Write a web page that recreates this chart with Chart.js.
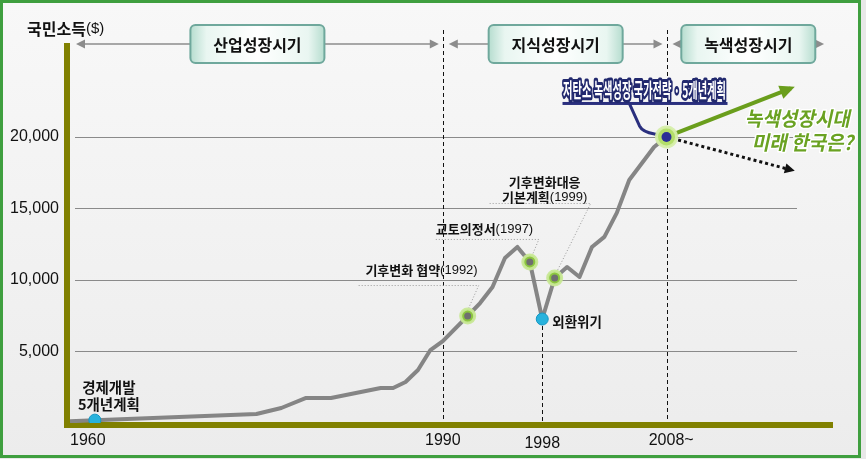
<!DOCTYPE html>
<html lang="ko">
<head>
<meta charset="utf-8">
<title>국민소득 추이</title>
<script src="https://cdn.jsdelivr.net/npm/chart.js@4.4.1/dist/chart.umd.min.js"></script>
<style>
  html, body { margin: 0; padding: 0; background: #fff; }
  canvas { display: block; }
</style>
</head>
<body>
<canvas id="myChart" width="866" height="459"></canvas>
<script>
// 1인당 국민소득($) - 그림에서 읽은 값
const years  = [1960, 1962, 1975, 1977, 1979, 1981, 1983, 1985, 1986, 1987, 1988, 1989, 1990,
                1992, 1993, 1994, 1995, 1996, 1997, 1998, 1999, 2000, 2001, 2002, 2003, 2004, 2005, 2007, 2008];
const income = [120, 200, 630, 1050, 1750, 1750, 2100, 2450, 2450, 2870, 3710, 5100, 5730,
                7480, 8390, 9510, 11540, 12310, 11260, 7270, 10140, 10910, 10210, 12310, 13010, 14690, 16990, 19300, 20000];

const yTicks = [5000, 10000, 15000, 20000];
const xTicks = [1960, 1990, 1998, 2008];
const xTickText = ['1960', '1990', '1998', '2008~'];

// 시기 구분
const periods = [1960, 1990, 2008, 2021];
const periodNames = ['산업성장시기', '지식성장시기', '녹색성장시기'];

// 주요 사건
const policyYears = [1992, 1997, 1999];
const policyNames = [['기후변화 협약', '(1992)'], ['교토의정서', '(1997)'], ['기후변화대응', '기본계획', '(1999)']];
const blueYears = [1962, 1998];
const blueNames = [['경제개발', '5개년계획'], ['외환위기']];
const greenYear = 2008;
const greenName = '저탄소 녹색성장 국가전략 · 5개년계획';

// 전망
const outlookYears = [2008, 2018];
const outlookUp = [20000, 23400];
const outlookDown = [20000, 17700];
const outlookText = ['녹색성장시대', '미래 한국은?'];

const KO = '"Noto Sans CJK KR", sans-serif';
const NUM = '"Liberation Sans", Arial, sans-serif';

const valueAt = yr => income[years.indexOf(yr)];
const pts = list => list.map(yr => ({ x: yr, y: valueAt(yr) }));

function line(ctx, x0, y0, x1, y1) {
    ctx.beginPath(); ctx.moveTo(x0, y0); ctx.lineTo(x1, y1); ctx.stroke();
}

function arrowHead(ctx, tx, ty, ang, len, half) {
    ctx.beginPath();
    ctx.moveTo(tx, ty);
    ctx.lineTo(tx - len * Math.cos(ang) - half * Math.sin(ang), ty - len * Math.sin(ang) + half * Math.cos(ang));
    ctx.lineTo(tx - len * Math.cos(ang) + half * Math.sin(ang), ty - len * Math.sin(ang) - half * Math.cos(ang));
    ctx.closePath();
    ctx.fill();
}

// 한글(굵게) + 숫자(보통) 섞어 쓰기
function runs(ctx, parts, x, y, align) {
    let total = 0;
    parts.forEach(p => { ctx.font = p[1]; total += ctx.measureText(p[0]).width; });
    let cx = align === 'center' ? x - total / 2 : align === 'right' ? x - total : x;
    ctx.textAlign = 'left';
    ctx.textBaseline = 'middle';
    parts.forEach(p => { ctx.font = p[1]; ctx.fillText(p[0], cx, y); cx += ctx.measureText(p[0]).width; });
}

const decor = {
    id: 'decor',
    beforeDraw(chart) {
        const { ctx, width, height } = chart;
        ctx.save();
        ctx.fillStyle = '#e8e8e8';
        ctx.fillRect(0, 0, width, height);
        const g = ctx.createLinearGradient(0, 0, 0, height);
        g.addColorStop(0, '#f8f8f8');
        g.addColorStop(1, '#ececec');
        ctx.fillStyle = g;
        ctx.fillRect(2, 2, 857, 453);
        ctx.strokeStyle = '#3f9f3f';
        ctx.lineWidth = 3;
        ctx.strokeRect(1.5, 1.5, 858, 455);
        ctx.restore();
    },
    beforeDatasetsDraw(chart) {
        const { ctx, chartArea: a, scales: { x, y } } = chart;
        ctx.save();

        // 가로 눈금선
        ctx.strokeStyle = '#8a8a8a';
        ctx.lineWidth = 1;
        yTicks.forEach(v => {
            const py = Math.round(y.getPixelForValue(v)) + 0.5;
            line(ctx, a.left + 5, py, a.right, py);
        });

        // 시기 구분 점선
        ctx.strokeStyle = '#111';
        ctx.setLineDash([4, 3]);
        [periods[1], periods[2]].forEach(yr => {
            const px = Math.round(x.getPixelForValue(yr)) + 0.5;
            line(ctx, px, 30, px, a.bottom);
        });
        const cx = Math.round(x.getPixelForValue(1998)) + 0.5;
        line(ctx, cx, y.getPixelForValue(valueAt(1998)) + 7, cx, a.bottom);
        ctx.setLineDash([]);

        // 상단 시기 화살표와 상자
        const hy = 44;
        periodNames.forEach((name, i) => {
            const x0 = x.getPixelForValue(periods[i]) + 6;
            const x1 = x.getPixelForValue(periods[i + 1]) - 4;
            const mid = (x0 + x1) / 2;
            const bw = 134, bh = 38;
            ctx.strokeStyle = '#8c8c8c';
            ctx.fillStyle = '#8c8c8c';
            ctx.lineWidth = 1.5;
            line(ctx, x0 + 6, hy, mid - bw / 2, hy);
            line(ctx, mid + bw / 2, hy, x1 - 6, hy);
            arrowHead(ctx, x0, hy, Math.PI, 9, 4.5);
            arrowHead(ctx, x1, hy, 0, 9, 4.5);

            const bg = ctx.createLinearGradient(mid - bw / 2, 0, mid + bw / 2, 0);
            bg.addColorStop(0, '#b6ddcf');
            bg.addColorStop(0.12, '#e9f6f1');
            bg.addColorStop(0.5, '#ffffff');
            bg.addColorStop(0.88, '#e9f6f1');
            bg.addColorStop(1, '#b6ddcf');
            ctx.beginPath();
            ctx.roundRect(mid - bw / 2, hy - bh / 2, bw, bh, 5);
            ctx.fillStyle = bg;
            ctx.fill();
            ctx.strokeStyle = '#6fa89c';
            ctx.lineWidth = 2;
            ctx.stroke();
            ctx.fillStyle = '#111';
            ctx.font = 'bold 16px ' + KO;
            ctx.textAlign = 'center';
            ctx.textBaseline = 'middle';
            ctx.fillText(name, mid, hy + 1);
        });

        // 축 막대
        ctx.fillStyle = '#808000';
        ctx.fillRect(a.left - 6, 43, 6, a.bottom - 43 + 5);
        ctx.fillRect(a.left - 6, a.bottom - 1, a.right + 36 - (a.left - 6), 6);

        // 사건 지시선
        ctx.strokeStyle = '#9a9a9a';
        ctx.lineWidth = 1;
        ctx.setLineDash([1, 2]);
        const leaders = [[-109, 11, -31, 1, -8], [-94, 9, -23, 3, -8], [-65, 36, -75, 3, -8]];
        policyYears.forEach((yr, i) => {
            const mx = x.getPixelForValue(yr), my = y.getPixelForValue(valueAt(yr));
            const [l, r, hy2, ex, ey] = leaders[i];
            ctx.beginPath();
            ctx.moveTo(mx + l, my + hy2 + 0.5);
            ctx.lineTo(mx + r, my + hy2 + 0.5);
            ctx.lineTo(mx + ex, my + ey);
            ctx.stroke();
        });
        ctx.setLineDash([]);

        // 2008 설명 연결선
        const gx = x.getPixelForValue(greenYear), gy = y.getPixelForValue(valueAt(greenYear));
        ctx.strokeStyle = '#2a2f7e';
        ctx.lineWidth = 3;
        ctx.beginPath();
        ctx.moveTo(gx - 37, gy - 33);
        ctx.lineTo(gx - 27, gy - 11);
        ctx.quadraticCurveTo(gx - 24, gy - 5, gx - 12, gy - 3);
        ctx.lineTo(gx, gy);
        ctx.stroke();
        ctx.restore();
    },
    afterDatasetsDraw(chart) {
        const { ctx, chartArea: a, scales: { x, y } } = chart;
        ctx.save();
        ctx.fillStyle = '#111';

        // 전망 화살촉
        const ux = x.getPixelForValue(outlookYears[1]), uy = y.getPixelForValue(outlookUp[1]);
        const sx = x.getPixelForValue(outlookYears[0]), sy = y.getPixelForValue(outlookUp[0]);
        ctx.fillStyle = '#6a9e1c';
        arrowHead(ctx, ux + 4, uy - 1.5, Math.atan2(uy - sy, ux - sx), 15, 7);
        const dx = x.getPixelForValue(outlookYears[1]), dy = y.getPixelForValue(outlookDown[1]);
        const ty = y.getPixelForValue(outlookDown[0]);
        ctx.fillStyle = '#111';
        arrowHead(ctx, dx + 4, dy + 1, Math.atan2(dy - ty, dx - sx), 10, 5);

        // y축 제목
        ctx.fillStyle = '#111';
        runs(ctx, [['국민소득', 'bold 16px ' + KO], ['($)', '15px ' + NUM]], 27, 29, 'left');

        // x축 눈금 글자
        ctx.font = '16px ' + NUM;
        xTicks.forEach((yr, i) => {
            const px = x.getPixelForValue(yr);
            ctx.textBaseline = 'middle';
            ctx.textAlign = 'left';
            if (i === 0) {
                ctx.fillText(xTickText[i], px, a.bottom + 18);
            } else {
                const w = ctx.measureText(String(yr)).width;
                ctx.fillText(xTickText[i], px - w / 2, a.bottom + 18 + (yr === 1998 ? 3 : 0));
            }
        });

        // 정책 글자
        const ko13 = 'bold 13px ' + KO, num13 = '13px ' + NUM;
        policyYears.forEach((yr, i) => {
            const mx = x.getPixelForValue(yr), my = y.getPixelForValue(valueAt(yr));
            const n = policyNames[i];
            if (i === 0) runs(ctx, [[n[0], ko13], [n[1], num13]], mx + 10, my - 46, 'right');
            if (i === 1) runs(ctx, [[n[0], ko13], [n[1], num13]], mx - 94, my - 33, 'left');
            if (i === 2) {
                runs(ctx, [[n[0], ko13]], mx - 10, my - 96, 'center');
                runs(ctx, [[n[1], ko13], [n[2], num13]], mx - 10, my - 81, 'center');
            }
        });

        // 경제개발, 외환위기
        const b0x = x.getPixelForValue(blueYears[0]), b0y = y.getPixelForValue(valueAt(blueYears[0]));
        runs(ctx, [[blueNames[0][0], 'bold 14.5px ' + KO]], b0x + 14, b0y - 33, 'center');
        runs(ctx, [[blueNames[0][1], 'bold 14.5px ' + KO]], b0x + 14, b0y - 16, 'center');
        const b1x = x.getPixelForValue(blueYears[1]), b1y = y.getPixelForValue(valueAt(blueYears[1]));
        runs(ctx, [[blueNames[1][0], 'bold 13.5px ' + KO]], b1x + 10, b1y + 3, 'left');

        // 2008 설명
        const gx = x.getPixelForValue(greenYear), gy = y.getPixelForValue(valueAt(greenYear));
        ctx.fillStyle = '#2a2f7e';
        ctx.fillRect(gx - 104, gy - 35, 165, 3);
        ctx.font = 'bold 20px ' + KO;
        const tw = ctx.measureText(greenName).width;
        const sc = 163 / tw;
        ctx.save();
        ctx.translate(gx - 22, gy - 47);
        ctx.scale(sc, 1);
        ctx.textAlign = 'center';
        ctx.textBaseline = 'middle';
        ctx.lineJoin = 'round';
        ctx.strokeStyle = '#22296e';
        ctx.lineWidth = 6;
        ctx.strokeText(greenName, 0, 0);
        ctx.fillStyle = '#ffffff';
        ctx.fillText(greenName, 0, 0);
        ctx.restore();

        // 녹색성장시대 / 미래 한국은?
        ctx.font = 'bold 20px ' + KO;
        ctx.textAlign = 'left';
        ctx.textBaseline = 'middle';
        [[80, -19], [87, 5]].forEach((off, i) => {
            ctx.save();
            ctx.translate(gx + off[0], gy + off[1]);
            ctx.transform(1, 0, -0.22, 1, 0, 0);
            ctx.scale(0.95, 1);
            ctx.lineJoin = 'round';
            ctx.strokeStyle = '#ffffff';
            ctx.lineWidth = 3;
            ctx.strokeText(outlookText[i], 0, 0);
            ctx.fillStyle = '#6aa222';
            ctx.fillText(outlookText[i], 0, 0);
            ctx.restore();
        });

        ctx.restore();
    }
};

const ctx = document.getElementById('myChart').getContext('2d');

const data = {
    datasets: [
        { // 2008 중심점
            data: pts([greenYear]), showLine: false, pointRadius: 5,
            pointBackgroundColor: '#2b2f96', pointBorderWidth: 0, order: 0
        },
        { // 2008 원
            data: pts([greenYear]), showLine: false, pointRadius: 10,
            pointBackgroundColor: '#b4df6a', pointBorderColor: 'rgba(214,238,170,0.95)', pointBorderWidth: 3, order: 1
        },
        { // 정책 표시 중심
            data: pts(policyYears), showLine: false, pointRadius: 3.5,
            pointBackgroundColor: '#6f6f6f', pointBorderWidth: 0, order: 2
        },
        { // 정책 표시 원
            data: pts(policyYears), showLine: false, pointRadius: 7,
            pointBackgroundColor: '#8cc63f', pointBorderColor: 'rgba(200,232,150,0.95)', pointBorderWidth: 3, order: 3
        },
        { // 파란 점
            data: pts(blueYears), showLine: false, pointRadius: 6,
            pointBackgroundColor: '#27b2dc', pointBorderColor: '#1597c4', pointBorderWidth: 1, order: 4
        },
        { // 국민소득
            data: years.map((yr, i) => ({ x: yr, y: income[i] })),
            borderColor: '#858585', borderWidth: 4, pointRadius: 0, tension: 0,
            borderJoinStyle: 'round', order: 5
        },
        { // 녹색 성장 전망
            data: outlookYears.map((yr, i) => ({ x: yr, y: outlookUp[i] })),
            borderColor: '#6a9e1c', borderWidth: 4, pointRadius: 0, order: 6
        },
        { // 기존 경로 전망
            data: outlookYears.map((yr, i) => ({ x: yr, y: outlookDown[i] })),
            borderColor: '#111', borderWidth: 3, borderDash: [3, 3], pointRadius: 0, order: 7
        }
    ]
};

const config = {
    type: 'line',
    data: data,
    options: {
        responsive: false,
        animation: false,
        layout: { padding: { top: 44, right: 69, bottom: 36, left: 0 } },
        plugins: {
            legend: { display: false },
            tooltip: { enabled: false }
        },
        scales: {
            x: { type: 'linear', min: 1960, max: 2018.5, display: false },
            y: {
                min: 0,
                max: 26500,
                afterFit(s) { s.width = 70; },
                afterBuildTicks(s) { s.ticks = yTicks.map(v => ({ value: v })); },
                grid: { display: false, drawTicks: false },
                border: { display: false },
                ticks: {
                    padding: 11,
                    color: '#111',
                    font: { family: NUM, size: 16 },
                    callback: v => v.toLocaleString('en-US')
                }
            }
        }
    },
    plugins: [decor]
};

const myChart = new Chart(ctx, config);
</script>
</body>
</html>
